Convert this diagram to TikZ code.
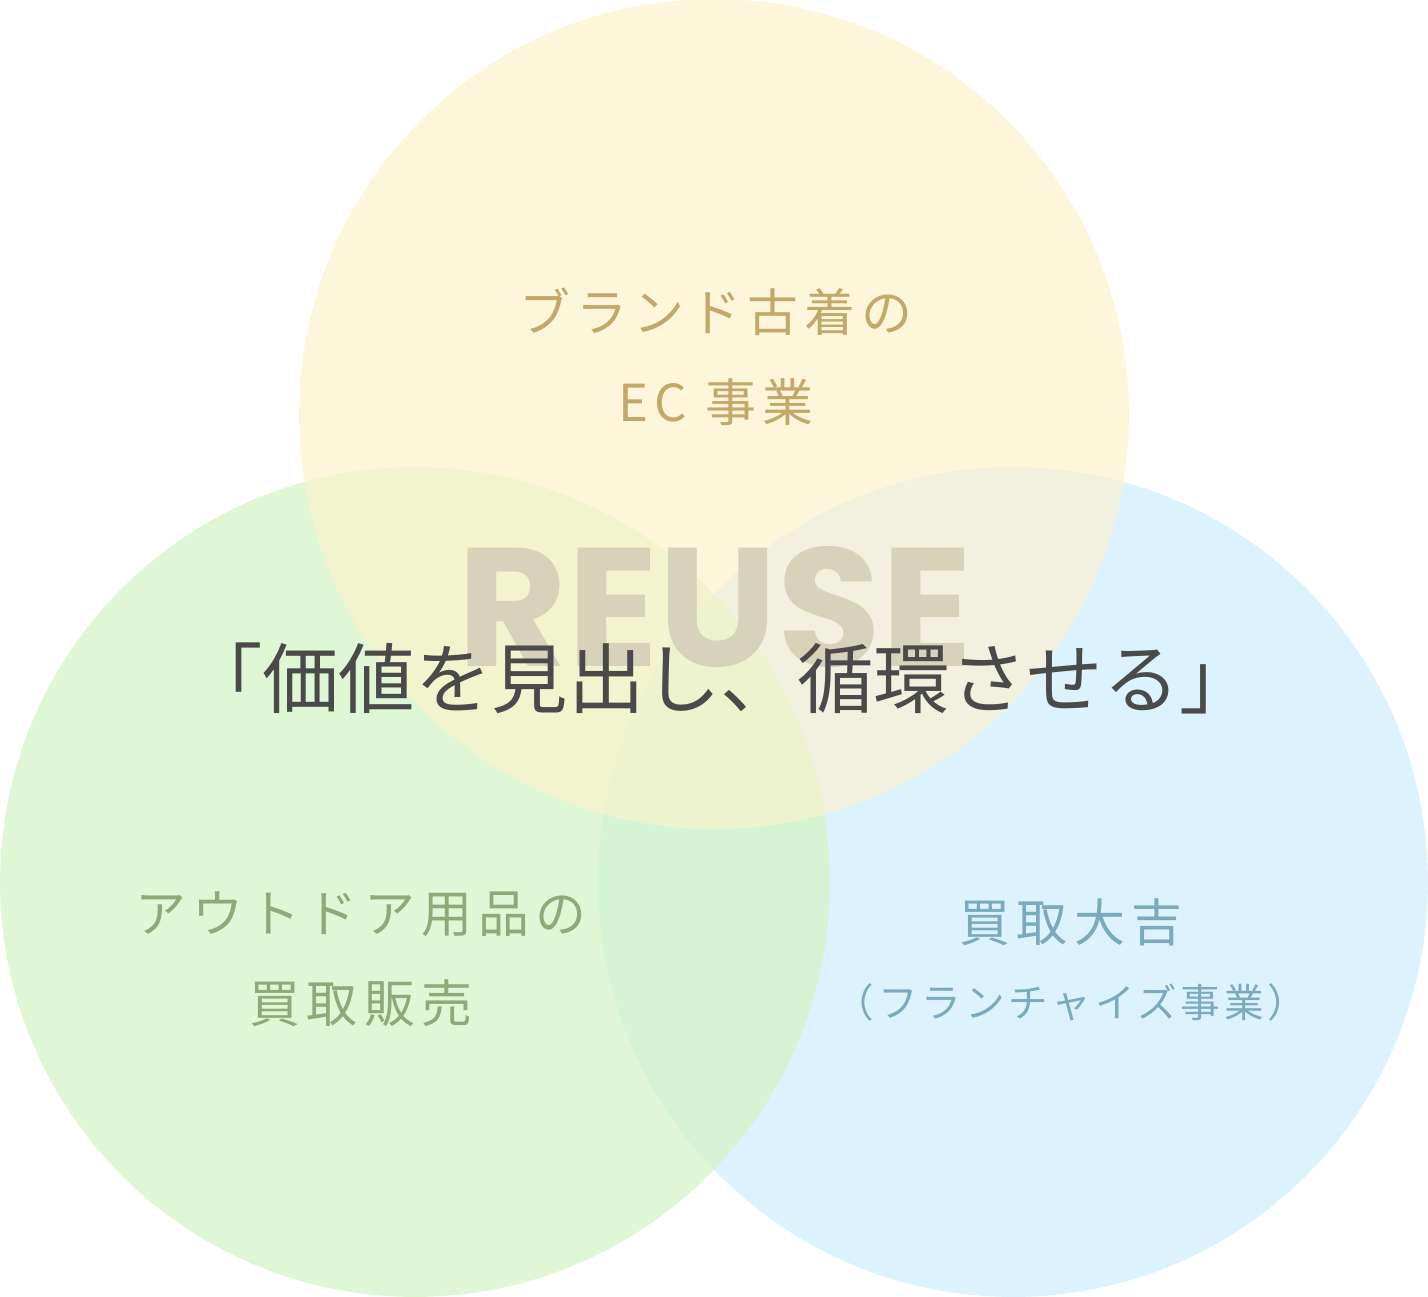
\documentclass[tikz,border=0pt]{standalone}
\usepackage{fontspec}
\setmainfont{Noto Sans CJK JP}
\setsansfont{Poppins}
\usetikzlibrary{positioning}
\definecolor{ecfill}{RGB}{253,246,219}
\definecolor{outfill}{RGB}{224,247,214}
\definecolor{kaifill}{RGB}{220,243,253}
\definecolor{ecoutfill}{RGB}{242,244,206}
\definecolor{eckaifill}{RGB}{242,240,222}
\definecolor{outkaifill}{RGB}{212,244,212}
\definecolor{allfill}{RGB}{236,243,205}
\definecolor{ectext}{RGB}{196,168,106}
\definecolor{outtext}{RGB}{141,170,120}
\definecolor{kaitext}{RGB}{122,170,190}
\definecolor{reusegray}{RGB}{215,211,186}
\definecolor{mottogray}{RGB}{74,74,74}
\tikzstyle{disc}=[radius=8.3cm]
\tikzstyle{caption}=[
	inner sep=0pt,
	align=center,
	font=\fontsize{29}{51}\selectfont\addfontfeature{LetterSpace=12}
]
\tikzstyle{subcaption}=[
	inner sep=0pt,
	font=\fontsize{22.5}{25}\selectfont\addfontfeature{LetterSpace=10}
]
\tikzstyle{reuse}=[
	inner sep=0pt,
	anchor=base,
	text=reusegray,
	font=\sffamily\bfseries\fontsize{96}{96}\selectfont
]
\tikzstyle{motto}=[
	inner sep=0pt,
	text=mottogray,
	font=\fontsize{43.5}{48}\selectfont
]

\begin{document}
\begin{tikzpicture}[x=0.02cm, y=-0.02cm]
\useasboundingbox (0,0) rectangle (1428,1297);
\coordinate (EC) at (714,414);
\coordinate (Outdoor) at (415,882);
\coordinate (Kaitori) at (1013,882);
% circles
\fill[outfill] (Outdoor) circle [disc];
\fill[kaifill] (Kaitori) circle [disc];
\begin{scope}
	\clip (Outdoor) circle [disc];
	\fill[outkaifill] (Kaitori) circle [disc];
\end{scope}
\fill[ecfill] (EC) circle [disc];
\begin{scope}
	\clip (EC) circle [disc];
	\fill[ecoutfill] (Outdoor) circle [disc];
	\fill[eckaifill] (Kaitori) circle [disc];
	\clip (Outdoor) circle [disc];
	\fill[allfill] (Kaitori) circle [disc];
\end{scope}
% labels
\node [caption, text=ectext] (ECname) at (716,357) {ブランド古着の\\EC 事業};
\node [caption, text=outtext] (Outdoorname) at (361,959) {アウトドア用品の\\買取販売};
\node [caption, text=kaitext] (Kaitoriname) at (1071,922) {買取大吉};
\node [subcaption, text=kaitext] (Kaitorisub) [below=0.75cm of Kaitoriname] {（フランチャイズ事業）};
\node [reuse] (Reuse) at (715,666) {REUSE};
\node [motto] (Motto) at (721,678) {「価値を見出し、循環させる」};
\end{tikzpicture}
\end{document}
